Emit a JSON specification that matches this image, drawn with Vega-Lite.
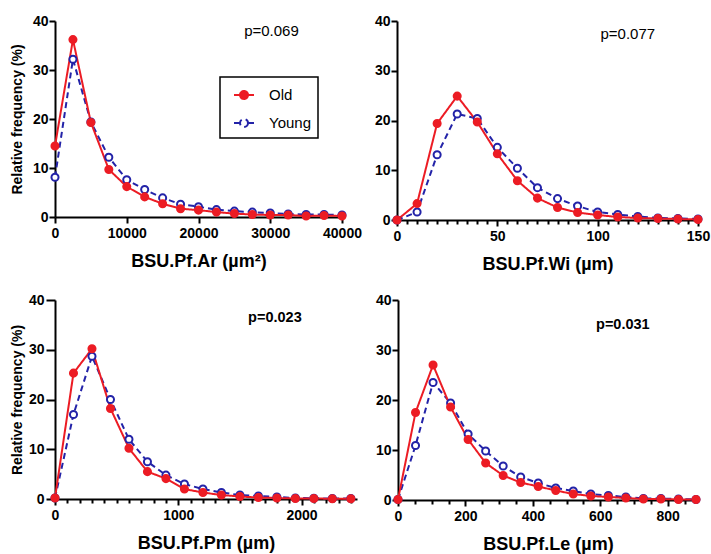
{
  "$schema": "https://vega.github.io/schema/vega-lite/v6.json",
  "padding": {"left": 10, "top": 14, "right": 5, "bottom": 5},
  "background": "white",
  "datasets": {
    "ar": [
      {"g":"Young","x":0,"y":8.1},{"g":"Young","x":2500,"y":32.2},{"g":"Young","x":5000,"y":19.4},{"g":"Young","x":7500,"y":12.2},{"g":"Young","x":10000,"y":7.6},{"g":"Young","x":12500,"y":5.6},{"g":"Young","x":15000,"y":3.9},{"g":"Young","x":17500,"y":2.6},{"g":"Young","x":20000,"y":2.1},{"g":"Young","x":22500,"y":1.5},{"g":"Young","x":25000,"y":1.2},{"g":"Young","x":27500,"y":1.0},{"g":"Young","x":30000,"y":0.8},{"g":"Young","x":32500,"y":0.6},{"g":"Young","x":35000,"y":0.5},{"g":"Young","x":37500,"y":0.5},{"g":"Young","x":40000,"y":0.4},
      {"g":"Old","x":0,"y":14.5},{"g":"Old","x":2500,"y":36.2},{"g":"Old","x":5000,"y":19.3},{"g":"Old","x":7500,"y":9.7},{"g":"Old","x":10000,"y":6.2},{"g":"Old","x":12500,"y":4.1},{"g":"Old","x":15000,"y":2.7},{"g":"Old","x":17500,"y":1.7},{"g":"Old","x":20000,"y":1.4},{"g":"Old","x":22500,"y":1.0},{"g":"Old","x":25000,"y":0.7},{"g":"Old","x":27500,"y":0.5},{"g":"Old","x":30000,"y":0.4},{"g":"Old","x":32500,"y":0.4},{"g":"Old","x":35000,"y":0.2},{"g":"Old","x":37500,"y":0.3},{"g":"Old","x":40000,"y":0.2}
    ],
    "wi": [
      {"g":"Young","x":0,"y":0},{"g":"Young","x":10,"y":1.6},{"g":"Young","x":20,"y":13.1},{"g":"Young","x":30,"y":21.3},{"g":"Young","x":40,"y":20.4},{"g":"Young","x":50,"y":14.6},{"g":"Young","x":60,"y":10.4},{"g":"Young","x":70,"y":6.5},{"g":"Young","x":80,"y":4.3},{"g":"Young","x":90,"y":2.8},{"g":"Young","x":100,"y":1.6},{"g":"Young","x":110,"y":1.1},{"g":"Young","x":120,"y":0.7},{"g":"Young","x":130,"y":0.4},{"g":"Young","x":140,"y":0.3},{"g":"Young","x":150,"y":0.2},
      {"g":"Old","x":0,"y":0},{"g":"Old","x":10,"y":3.3},{"g":"Old","x":20,"y":19.4},{"g":"Old","x":30,"y":24.9},{"g":"Old","x":40,"y":19.7},{"g":"Old","x":50,"y":13.3},{"g":"Old","x":60,"y":7.9},{"g":"Old","x":70,"y":4.4},{"g":"Old","x":80,"y":2.5},{"g":"Old","x":90,"y":1.5},{"g":"Old","x":100,"y":1.0},{"g":"Old","x":110,"y":0.6},{"g":"Old","x":120,"y":0.4},{"g":"Old","x":130,"y":0.3},{"g":"Old","x":140,"y":0.2},{"g":"Old","x":150,"y":0.1}
    ],
    "pm": [
      {"g":"Young","x":0,"y":0.2},{"g":"Young","x":150,"y":17.0},{"g":"Young","x":300,"y":28.7},{"g":"Young","x":450,"y":20.0},{"g":"Young","x":600,"y":12.0},{"g":"Young","x":750,"y":7.5},{"g":"Young","x":900,"y":4.8},{"g":"Young","x":1050,"y":3.0},{"g":"Young","x":1200,"y":2.0},{"g":"Young","x":1350,"y":1.3},{"g":"Young","x":1500,"y":0.8},{"g":"Young","x":1650,"y":0.6},{"g":"Young","x":1800,"y":0.4},{"g":"Young","x":1950,"y":0.2},{"g":"Young","x":2100,"y":0.15},{"g":"Young","x":2250,"y":0.1},{"g":"Young","x":2400,"y":0.1},
      {"g":"Old","x":0,"y":0.2},{"g":"Old","x":150,"y":25.3},{"g":"Old","x":300,"y":30.2},{"g":"Old","x":450,"y":18.2},{"g":"Old","x":600,"y":10.2},{"g":"Old","x":750,"y":5.5},{"g":"Old","x":900,"y":4.1},{"g":"Old","x":1050,"y":2.0},{"g":"Old","x":1200,"y":1.3},{"g":"Old","x":1350,"y":0.8},{"g":"Old","x":1500,"y":0.5},{"g":"Old","x":1650,"y":0.3},{"g":"Old","x":1800,"y":0.2},{"g":"Old","x":1950,"y":0.1},{"g":"Old","x":2100,"y":0.1},{"g":"Old","x":2250,"y":0.05},{"g":"Old","x":2400,"y":0.05}
    ],
    "le": [
      {"g":"Young","x":0,"y":0.1},{"g":"Young","x":52,"y":10.9},{"g":"Young","x":104,"y":23.5},{"g":"Young","x":156,"y":19.4},{"g":"Young","x":208,"y":13.2},{"g":"Young","x":260,"y":9.8},{"g":"Young","x":312,"y":6.8},{"g":"Young","x":364,"y":4.6},{"g":"Young","x":416,"y":3.4},{"g":"Young","x":468,"y":2.4},{"g":"Young","x":520,"y":1.8},{"g":"Young","x":572,"y":1.2},{"g":"Young","x":624,"y":0.9},{"g":"Young","x":676,"y":0.6},{"g":"Young","x":728,"y":0.3},{"g":"Young","x":780,"y":0.3},{"g":"Young","x":832,"y":0.2},{"g":"Young","x":884,"y":0.1},
      {"g":"Old","x":0,"y":0.1},{"g":"Old","x":52,"y":17.5},{"g":"Old","x":104,"y":27.0},{"g":"Old","x":156,"y":18.6},{"g":"Old","x":208,"y":12.1},{"g":"Old","x":260,"y":7.4},{"g":"Old","x":312,"y":4.9},{"g":"Old","x":364,"y":3.5},{"g":"Old","x":416,"y":2.7},{"g":"Old","x":468,"y":1.9},{"g":"Old","x":520,"y":1.2},{"g":"Old","x":572,"y":0.8},{"g":"Old","x":624,"y":0.6},{"g":"Old","x":676,"y":0.4},{"g":"Old","x":728,"y":0.2},{"g":"Old","x":780,"y":0.2},{"g":"Old","x":832,"y":0.1},{"g":"Old","x":884,"y":0.1}
    ]
  },
  "spacing": 20,
  "resolve": {"legend": {"color": "independent", "strokeDash": "independent"}},
  "vconcat": [
    {
      "hconcat": [
        {
          "width": 287, "height": 196,
          "layer": [
            {
              "data": {"name": "ar"},
              "mark": {"type": "line", "strokeWidth": 2},
              "encoding": {
                "x": {"field": "x", "type": "quantitative", "scale": {"domain": [0, 40000], "nice": false}, "axis": {"values": [0, 10000, 20000, 30000, 40000], "tickCount": 50, "format": "d", "title": "BSU.Pf.Ar (µm²)"}},
                "y": {"field": "y", "type": "quantitative", "scale": {"domain": [0, 40], "nice": false}, "axis": {"values": [0, 10, 20, 30, 40], "tickCount": 50, "title": "Relative frequency (%)", "titlePadding": 8}},
                "color": {"field": "g", "type": "nominal", "scale": {"domain": ["Old", "Young"], "range": ["#ec1c24", "#2323a8"]},
                  "legend": {"title": null, "orient": "none", "legendX": 165, "legendY": 56, "strokeColor": "black", "padding": 7, "symbolOffset": 6, "labelFontSize": 15, "labelFont": "Liberation Sans", "labelColor": "black", "labelOffset": 14, "symbolType": "M-1,0L-0.4,0M0.4,0L1,0M0.4,0A0.4,0.4,0,1,1,-0.4,0A0.4,0.4,0,1,1,0.4,0", "symbolSize": 400, "symbolStrokeWidth": 2, "rowPadding": 9,
                    "encode": {"symbols": {"update": {"fill": {"signal": "datum.value === 'Old' ? '#ec1c24' : 'white'"}}}, "legend": {"update": {"strokeWidth": {"value": 1.5}}}}}},
                "strokeDash": {"field": "g", "type": "nominal", "scale": {"domain": ["Old", "Young"], "range": [[1, 0], [6, 4]]},
                  "legend": {"title": null, "orient": "none", "legendX": 165, "legendY": 56, "strokeColor": "black", "padding": 7, "symbolOffset": 6, "labelFontSize": 15, "labelFont": "Liberation Sans", "labelColor": "black", "labelOffset": 14, "symbolType": "M-1,0L-0.4,0M0.4,0L1,0M0.4,0A0.4,0.4,0,1,1,-0.4,0A0.4,0.4,0,1,1,0.4,0", "symbolSize": 400, "symbolStrokeWidth": 2, "rowPadding": 9}}
              }
            },
            {
              "data": {"name": "ar"},
              "mark": {"type": "point", "size": 50, "strokeWidth": 2, "opacity": 1},
              "encoding": {
                "x": {"field": "x", "type": "quantitative"},
                "y": {"field": "y", "type": "quantitative"},
                "stroke": {"field": "g", "type": "nominal", "scale": {"domain": ["Old", "Young"], "range": ["#ec1c24", "#2323a8"]}, "legend": null},
                "fill": {"field": "g", "type": "nominal", "scale": {"domain": ["Old", "Young"], "range": ["#ec1c24", "#ffffff"]}, "legend": null}
              }
            },
            {
              "data": {"values": [{"x": 30170, "y": 37.9, "label": "p=0.069"}]},
              "mark": {"type": "text", "font": "Liberation Sans", "fontSize": 15, "color": "black"},
              "encoding": {"x": {"field": "x", "type": "quantitative"}, "y": {"field": "y", "type": "quantitative"}, "text": {"field": "label"}}
            }
          ]
        },
        {
          "width": 301, "height": 199,
          "layer": [
            {
              "data": {"name": "wi"},
              "mark": {"type": "line", "strokeWidth": 2},
              "encoding": {
                "x": {"field": "x", "type": "quantitative", "scale": {"domain": [0, 150], "nice": false}, "axis": {"values": [0,5,10,15,20,25,30,35,40,45,50,55,60,65,70,75,80,85,90,95,100,105,110,115,120,125,130,135,140,145,150], "tickCount": 100, "labelExpr": "datum.value % 50 === 0 ? datum.label : ''", "tickSize": {"condition": {"test": "datum.value % 50 !== 0", "value": 4}, "value": 6}, "title": "BSU.Pf.Wi (µm)"}},
                "y": {"field": "y", "type": "quantitative", "scale": {"domain": [0, 40], "nice": false}, "axis": {"values": [0, 10, 20, 30, 40], "tickCount": 50, "title": null}},
                "color": {"field": "g", "type": "nominal", "legend": null},
                "strokeDash": {"field": "g", "type": "nominal", "legend": null}
              }
            },
            {
              "data": {"name": "wi"},
              "mark": {"type": "point", "size": 50, "strokeWidth": 2, "opacity": 1},
              "encoding": {
                "x": {"field": "x", "type": "quantitative"},
                "y": {"field": "y", "type": "quantitative"},
                "stroke": {"field": "g", "type": "nominal", "legend": null},
                "fill": {"field": "g", "type": "nominal", "legend": null}
              }
            },
            {
              "data": {"values": [{"x": 115, "y": 37.4, "label": "p=0.077"}]},
              "mark": {"type": "text", "font": "Liberation Sans", "fontSize": 15, "color": "black"},
              "encoding": {"x": {"field": "x", "type": "quantitative"}, "y": {"field": "y", "type": "quantitative"}, "text": {"field": "label"}}
            }
          ]
        }
      ],
      "spacing": 55,
      "bounds": "flush"
    },
    {
      "hconcat": [
        {
          "width": 302, "height": 199,
          "layer": [
            {
              "data": {"name": "pm"},
              "mark": {"type": "line", "strokeWidth": 2},
              "encoding": {
                "x": {"field": "x", "type": "quantitative", "scale": {"domain": [0, 2450], "nice": false}, "axis": {"values": [0,100,200,300,400,500,600,700,800,900,1000,1100,1200,1300,1400,1500,1600,1700,1800,1900,2000,2100,2200,2300,2400], "tickCount": 100, "format": "d", "labelExpr": "datum.value % 1000 === 0 ? datum.label : ''", "tickSize": {"condition": {"test": "datum.value % 1000 !== 0", "value": 4}, "value": 6}, "title": "BSU.Pf.Pm (µm)"}},
                "y": {"field": "y", "type": "quantitative", "scale": {"domain": [0, 40], "nice": false}, "axis": {"values": [0, 10, 20, 30, 40], "tickCount": 50, "title": "Relative frequency (%)", "titlePadding": 4, "tickSize": 9, "labelPadding": 2}},
                "color": {"field": "g", "type": "nominal", "legend": null},
                "strokeDash": {"field": "g", "type": "nominal", "legend": null}
              }
            },
            {
              "data": {"name": "pm"},
              "mark": {"type": "point", "size": 50, "strokeWidth": 2, "opacity": 1},
              "encoding": {
                "x": {"field": "x", "type": "quantitative"},
                "y": {"field": "y", "type": "quantitative"},
                "stroke": {"field": "g", "type": "nominal", "legend": null},
                "fill": {"field": "g", "type": "nominal", "legend": null}
              }
            },
            {
              "data": {"values": [{"x": 1784, "y": 36.4, "label": "p=0.023"}]},
              "mark": {"type": "text", "font": "Liberation Sans", "fontSize": 14.5, "fontWeight": "bold", "color": "black"},
              "encoding": {"x": {"field": "x", "type": "quantitative"}, "y": {"field": "y", "type": "quantitative"}, "text": {"field": "label"}}
            }
          ]
        },
        {
          "width": 300, "height": 200,
          "layer": [
            {
              "data": {"name": "le"},
              "mark": {"type": "line", "strokeWidth": 2},
              "encoding": {
                "x": {"field": "x", "type": "quantitative", "scale": {"domain": [0, 890], "nice": false}, "axis": {"values": [0,50,100,150,200,250,300,350,400,450,500,550,600,650,700,750,800,850], "tickCount": 100, "labelExpr": "datum.value % 200 === 0 ? datum.label : ''", "tickSize": {"condition": {"test": "datum.value % 200 !== 0", "value": 4}, "value": 6}, "title": "BSU.Pf.Le (µm)"}},
                "y": {"field": "y", "type": "quantitative", "scale": {"domain": [0, 40], "nice": false}, "axis": {"values": [0, 10, 20, 30, 40], "tickCount": 50, "title": null}},
                "color": {"field": "g", "type": "nominal", "legend": null},
                "strokeDash": {"field": "g", "type": "nominal", "legend": null}
              }
            },
            {
              "data": {"name": "le"},
              "mark": {"type": "point", "size": 50, "strokeWidth": 2, "opacity": 1},
              "encoding": {
                "x": {"field": "x", "type": "quantitative"},
                "y": {"field": "y", "type": "quantitative"},
                "stroke": {"field": "g", "type": "nominal", "legend": null},
                "fill": {"field": "g", "type": "nominal", "legend": null}
              }
            },
            {
              "data": {"values": [{"x": 667, "y": 35, "label": "p=0.031"}]},
              "mark": {"type": "text", "font": "Liberation Sans", "fontSize": 14.5, "fontWeight": "bold", "color": "black"},
              "encoding": {"x": {"field": "x", "type": "quantitative"}, "y": {"field": "y", "type": "quantitative"}, "text": {"field": "label"}}
            }
          ]
        }
      ],
      "spacing": 41,
      "bounds": "flush"
    }
  ],
  "config": {
    "font": "Liberation Sans",
    "view": {"stroke": null},
    "axis": {"domainColor": "black", "domainWidth": 2, "tickColor": "black", "tickWidth": 2, "tickSize": 6, "ticks": true, "labelFont": "Liberation Sans", "labelFontSize": 14, "labelFontWeight": "bold", "labelColor": "black", "labelPadding": 1, "titleFont": "Liberation Sans", "titleFontSize": 18, "titleFontWeight": "bold", "titleColor": "black", "grid": false, "labelFlush": false, "labelOverlap": false},
    "axisX": {"labelPadding": 3, "titlePadding": 12},
    "axisY": {"titlePadding": 8, "titleFontSize": 14}
  }
}
